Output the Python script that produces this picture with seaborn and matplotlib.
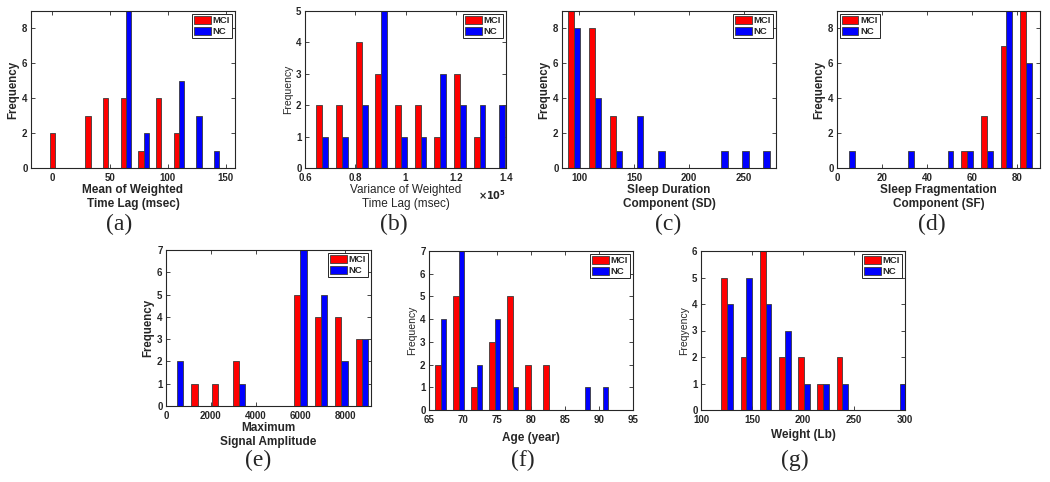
import numpy as np
import pandas as pd
import seaborn as sns
import matplotlib.pyplot as plt
from matplotlib.ticker import FuncFormatter

groups = ['MCI', 'NC']
palette = {'MCI': '#ff0000', 'NC': '#0000ff'}

# (a) mean of weighted time lag, msec
lag_mean_bins = [3, 18, 33, 48, 64, 79, 94, 109, 124, 140]
lag_mean_mci = [2, 0, 3, 4, 4, 1, 4, 2, 0, 0]
lag_mean_nc = [0, 0, 0, 0, 9, 2, 0, 5, 3, 1]

# (b) variance of weighted time lag
lag_var_bins = [66900, 74700, 82600, 90200, 98100, 106000, 113900, 121700, 129700, 137300]
lag_var_mci = [2, 2, 4, 3, 2, 2, 1, 3, 1, 0]
lag_var_nc = [1, 1, 2, 5, 1, 1, 3, 2, 2, 2]

# (c) sleep duration component
sd_bins = [95.5, 115, 134, 153, 172, 191, 210, 229, 248, 267.5]
sd_mci = [9, 8, 3, 0, 0, 0, 0, 0, 0, 0]
sd_nc = [8, 4, 1, 3, 1, 0, 0, 1, 1, 1]

# (d) sleep fragmentation component
sf_bins = [5.5, 14.2, 22.9, 31.6, 40.3, 49.0, 57.7, 66.4, 75.1, 83.8]
sf_mci = [0, 0, 0, 0, 0, 0, 1, 3, 7, 9]
sf_nc = [1, 0, 0, 1, 0, 1, 1, 1, 9, 6]

# (e) maximum signal amplitude
amp_bins = [495, 1412, 2329, 3246, 4163, 5080, 5997, 6914, 7831, 8748]
amp_mci = [0, 1, 1, 2, 0, 0, 5, 4, 4, 3]
amp_nc = [2, 0, 0, 1, 0, 0, 7, 5, 2, 3]

# (f) age, years
age_bins = [66.7, 69.3, 72.0, 74.6, 77.3, 80.0, 82.6, 85.3, 88.0, 90.6]
age_mci = [2, 5, 1, 3, 5, 2, 2, 0, 0, 0]
age_nc = [4, 7, 2, 4, 1, 0, 0, 0, 1, 1]

# (g) weight, lb
weight_bins = [125.7, 144.5, 163.4, 182.2, 201.0, 219.8, 238.7, 257.5, 276.3, 295.1]
weight_mci = [5, 2, 6, 2, 2, 1, 2, 0, 0, 0]
weight_nc = [4, 5, 4, 3, 1, 1, 1, 0, 0, 1]

W, H = 1050, 482


def rect(left, top, right, bottom):
    return [left / W, 1 - bottom / H, (right - left) / W, (bottom - top) / H]


def hist(ax, centers, mci, nc):
    n = len(centers)
    df = pd.DataFrame({
        'value': list(centers) * 2,
        'count': list(mci) + list(nc),
        'group': ['MCI'] * n + ['NC'] * n,
    })
    c = np.asarray(centers, dtype=float)
    w = (c[-1] - c[0]) / (n - 1)
    edges = (c[0] - w / 2 + w * np.arange(n + 1)).tolist()
    sns.histplot(data=df, x='value', weights='count', hue='group',
                 hue_order=groups, palette=palette, bins=edges,
                 multiple='dodge', shrink=0.6, alpha=1,
                 edgecolor='#3c3c3c', linewidth=0.6, ax=ax)


sns.set_style('ticks')
plt.rcParams['font.family'] = ['Liberation Sans', 'DejaVu Sans']
plt.rcParams['font.weight'] = 'bold'
plt.rcParams['axes.labelweight'] = 'bold'

fig = plt.figure(figsize=(W / 100, H / 100), dpi=100)

panels = [
    # data, box, xlim, xticks, ymax, xlabel, ylabel, legend loc, caption xy, ylabel weight
    ((lag_mean_bins, lag_mean_mci, lag_mean_nc), (31, 11, 235, 168), (-18, 158),
     [0, 50, 100, 150], 9, 'Mean of Weighted\nTime Lag (msec)', 'Frequency',
     'upper right', (119, 224), 'bold'),
    ((lag_var_bins, lag_var_mci, lag_var_nc), (305, 11, 506, 168), (60000, 140000),
     [60000, 80000, 100000, 120000, 140000], 5,
     'Variance of Weighted\nTime Lag (msec)', 'Frequency',
     'upper right', (394, 224), 'normal'),
    ((sd_bins, sd_mci, sd_nc), (562, 11, 776, 168), (84.5, 279),
     [100, 150, 200, 250], 9, 'Sleep Duration\nComponent (SD)', 'Frequency',
     'upper right', (668, 224), 'bold'),
    ((sf_bins, sf_mci, sf_nc), (837, 11, 1040, 168), (0, 90),
     [0, 20, 40, 60, 80], 9, 'Sleep Fragmentation\nComponent (SF)', 'Frequency',
     'upper left', (932, 224), 'bold'),
    ((amp_bins, amp_mci, amp_nc), (166, 250, 371, 406), (0, 9150),
     [0, 2000, 4000, 6000, 8000], 7, 'Maximum\nSignal Amplitude', 'Frequency',
     'upper right', (258, 460), 'bold'),
    ((age_bins, age_mci, age_nc), (429, 251, 633, 410), (65, 95),
     [65, 70, 75, 80, 85, 90, 95], 7, 'Age (year)', 'Frequency',
     'upper right', (523, 460), 'normal'),
    ((weight_bins, weight_mci, weight_nc), (701, 251, 905, 410), (100, 300),
     [100, 150, 200, 250, 300], 6, 'Weight (Lb)', 'Freqyency',
     'upper right', (795, 460), 'normal'),
]

captions = ['(a)', '(b)', '(c)', '(d)', '(e)', '(f)', '(g)']

for i, (data, box, xlim, xticks, ymax, xlabel, ylabel, loc, cap, yw) in enumerate(panels):
    ax = fig.add_axes(rect(*box))
    hist(ax, *data)
    ax.set_xlim(*xlim)
    ax.set_ylim(0, ymax)
    ax.set_xticks(xticks)
    ax.set_yticks(range(0, ymax + 1, 2 if ymax > 7 else 1))
    ax.tick_params(direction='in', top=True, right=True, length=3, width=0.6,
                   labelsize=7, pad=2.5)
    ax.tick_params(axis='x', pad=3.5)
    for s in ax.spines.values():
        s.set_visible(True)
        s.set_color('#262626')
        s.set_linewidth(0.8)
    ax.set_xlabel(xlabel, fontsize=8.5, labelpad=0.5, linespacing=1.3)
    ax.set_ylabel(ylabel, fontsize=8.3 if yw == 'bold' else 7.5,
                  fontweight=yw, labelpad=2)
    if i == 1:
        ax.xaxis.set_major_formatter(FuncFormatter(lambda v, p: f'{v / 1e5:g}'))
        ax.xaxis.label.set_fontweight('normal')
        ax.text(1.0, -0.13, r'$\times10^5$', transform=ax.transAxes,
                ha='right', va='top', fontsize=7, fontweight='normal')
    if i == 5:
        ax.xaxis.labelpad = 5
    if i == 6:
        ax.xaxis.labelpad = 3
    sns.move_legend(ax, loc, title=None, frameon=True, fancybox=False,
                    fontsize=6.8, handlelength=1.7, handleheight=0.9,
                    handletextpad=0.2, labelspacing=0.15, borderpad=0.25,
                    borderaxespad=0.3, framealpha=1, edgecolor='#262626')
    ax.get_legend().get_frame().set_linewidth(0.7)
    fig.text(cap[0] / W, 1 - cap[1] / H, captions[i], ha='center', va='center',
             fontsize=17, fontweight='normal', family='Liberation Serif')

fig.savefig('out.png', dpi=100)
